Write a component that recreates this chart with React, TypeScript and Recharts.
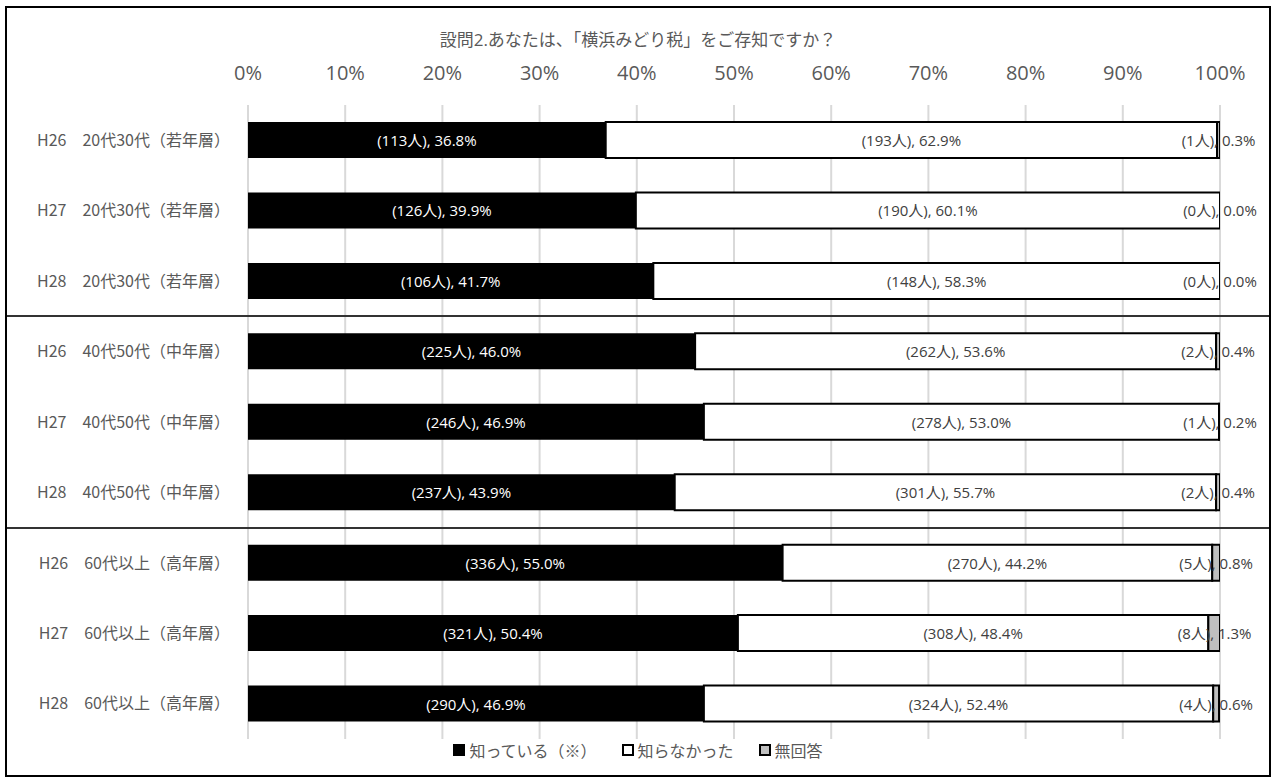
import { BarChart, Bar, XAxis, YAxis, CartesianGrid, LabelList } from 'recharts';

// 設問2 横浜みどり税の認知度（年代別・年度別）
const categories = [
  'H26　20代30代（若年層）',
  'H27　20代30代（若年層）',
  'H28　20代30代（若年層）',
  'H26　40代50代（中年層）',
  'H27　40代50代（中年層）',
  'H28　40代50代（中年層）',
  'H26　60代以上（高年層）',
  'H27　60代以上（高年層）',
  'H28　60代以上（高年層）',
];
const knownPct = [36.8, 39.9, 41.7, 46.0, 46.9, 43.9, 55.0, 50.4, 46.9];
const knownCount = [113, 126, 106, 225, 246, 237, 336, 321, 290];
const unknownPct = [62.9, 60.1, 58.3, 53.6, 53.0, 55.7, 44.2, 48.4, 52.4];
const unknownCount = [193, 190, 148, 262, 278, 301, 270, 308, 324];
const noAnswerPct = [0.3, 0.0, 0.0, 0.4, 0.2, 0.4, 0.8, 1.3, 0.6];
const noAnswerCount = [1, 0, 0, 2, 1, 2, 5, 8, 4];
const xTicks = [0, 10, 20, 30, 40, 50, 60, 70, 80, 90, 100];
const groupBreaks = [3, 6];

const FONT = "'Open Sans', 'Noto Sans CJK JP', sans-serif";
const CJK = "'Noto Sans CJK JP', sans-serif";
const GRAY_TEXT = '#595959';

const W = 1262;
const H = 767;
const MARGIN = { top: 57, right: 49, bottom: 36, left: 0 };
const X_AXIS_H = 40;
const PLOT_TOP = MARGIN.top + X_AXIS_H;
const PLOT_H = H - PLOT_TOP - MARGIN.bottom;

const fmt = (n: number, p: number) => `(${n}人), ${p.toFixed(1)}%`;

const data = categories.map((name, i) => ({
  name,
  known: knownPct[i],
  unknown: unknownPct[i],
  noAnswer: noAnswerPct[i],
  knownLabel: fmt(knownCount[i], knownPct[i]),
  unknownLabel: fmt(unknownCount[i], unknownPct[i]),
  noAnswerLabel: fmt(noAnswerCount[i], noAnswerPct[i]),
}));

const labelText = (cx: number, cy: number, color: string, value: any) => (
  <text
    x={cx}
    y={cy}
    textAnchor="middle"
    dominantBaseline="central"
    fill={color}
    fontSize={15}
    fontFamily={FONT}
  >
    {value}
  </text>
);

const centerLabel = (color: string) => (props: any) => {
  const { x, y, width, height, value } = props;
  return labelText(Number(x) + Number(width) / 2, Number(y) + Number(height) / 2, color, value);
};

// 無回答 is often 0 wide, so its label hangs off the end of the 知らなかった bar
const noAnswerLabel = (props: any) => {
  const { x, y, width, height, value } = props;
  const i = data.findIndex((d) => d.noAnswerLabel === value);
  const pxPerPct = Number(width) / unknownPct[i];
  const cx = Number(x) + Number(width) + (pxPerPct * noAnswerPct[i]) / 2;
  return labelText(cx, Number(y) + Number(height) / 2, '#404040', value);
};

const legendItems = [
  { label: '知っている（※）', fill: '#000', border: '#000' },
  { label: '知らなかった', fill: '#fff', border: '#000' },
  { label: '無回答', fill: '#bfbfbf', border: '#000' },
];

export default function App() {
  const band = PLOT_H / categories.length;

  return (
    <div
      style={{
        position: 'absolute',
        left: 5,
        top: 6,
        width: W + 4,
        height: H + 4,
        boxSizing: 'border-box',
        border: '2px solid #000',
        background: '#fff',
        fontFamily: FONT,
      }}
    >
      <div
        style={{
          position: 'absolute',
          left: 0,
          top: 22,
          width: W,
          textAlign: 'center',
          fontSize: 17,
          lineHeight: '20px',
          color: GRAY_TEXT,
        }}
      >
        設問2.あなたは、「横浜みどり税」をご存知ですか？
      </div>

      <BarChart
        width={W}
        height={H}
        data={data}
        layout="vertical"
        margin={MARGIN}
        barSize={36}
        style={{ position: 'absolute', left: 0, top: 0 }}
      >
        <CartesianGrid horizontal={false} stroke="#d9d9d9" strokeWidth={2} />
        <XAxis
          type="number"
          orientation="top"
          domain={[0, 100]}
          allowDataOverflow
          ticks={xTicks}
          tickFormatter={(v) => `${v}%`}
          axisLine={false}
          tickLine={false}
          tickSize={0}
          tickMargin={25}
          height={X_AXIS_H}
          tick={{ fill: GRAY_TEXT, fontSize: 20, fontFamily: FONT }}
        />
        <YAxis
          type="category"
          dataKey="name"
          width={241}
          axisLine={false}
          tickLine={false}
          tickSize={0}
          tickMargin={18}
          tick={{ fill: GRAY_TEXT, fontSize: 16, fontFamily: CJK }}
        />
        <Bar dataKey="known" stackId="a" fill="#000" isAnimationActive={false}>
          <LabelList dataKey="knownLabel" content={centerLabel('#fff')} />
        </Bar>
        <Bar dataKey="unknown" stackId="a" fill="#fff" stroke="#000" strokeWidth={2} isAnimationActive={false}>
          <LabelList dataKey="unknownLabel" content={centerLabel('#404040')} />
          <LabelList dataKey="noAnswerLabel" content={noAnswerLabel} />
        </Bar>
        <Bar dataKey="noAnswer" stackId="a" fill="#bfbfbf" stroke="#000" strokeWidth={2} isAnimationActive={false} />
      </BarChart>

      {groupBreaks.map((b) => (
        <div
          key={b}
          style={{
            position: 'absolute',
            left: 0,
            width: W,
            top: PLOT_TOP + band * b - 1,
            height: 2,
            background: '#333',
          }}
        />
      ))}

      <div
        style={{
          position: 'absolute',
          left: 0,
          top: 732,
          width: W,
          height: 20,
          display: 'flex',
          justifyContent: 'center',
          alignItems: 'center',
          gap: 25,
          fontSize: 16,
          fontFamily: CJK,
          color: GRAY_TEXT,
        }}
      >
        {legendItems.map((it) => (
          <div key={it.label} style={{ display: 'flex', alignItems: 'center', gap: 4 }}>
            <span
              style={{
                display: 'inline-block',
                width: 12,
                height: 12,
                boxSizing: 'border-box',
                background: it.fill,
                border: `2px solid ${it.border}`,
              }}
            />
            <span>{it.label}</span>
          </div>
        ))}
      </div>
    </div>
  );
}
